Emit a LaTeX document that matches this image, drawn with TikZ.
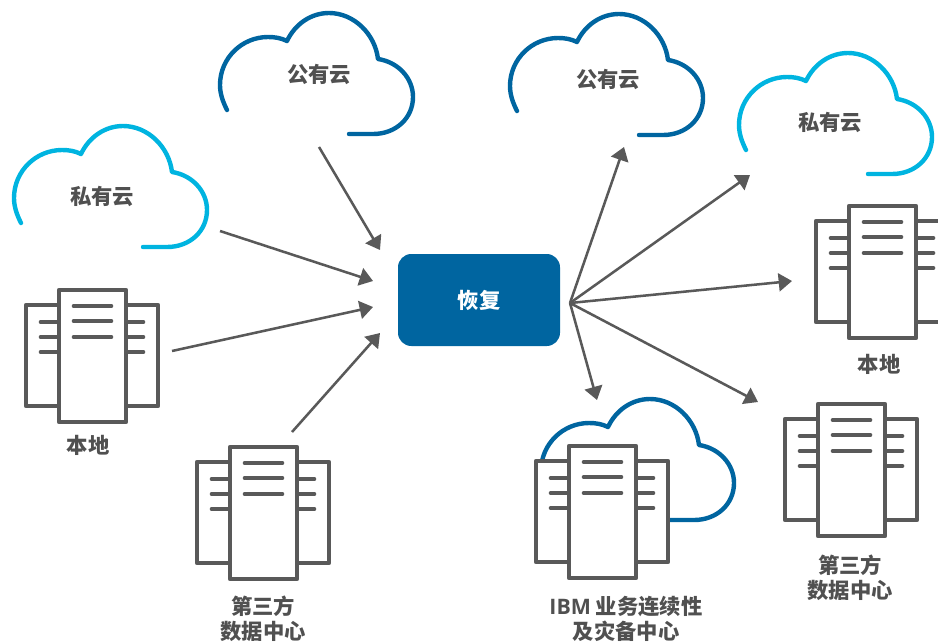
\documentclass[tikz,border=0pt]{standalone}
\usepackage{fontspec}
\setmainfont{Noto Sans CJK SC}
\newfontfamily\latinfont{Open Sans}
\usetikzlibrary{arrows.meta}

\definecolor{dr_dark}{RGB}{0,101,160}
\definecolor{dr_light}{RGB}{0,180,224}
\definecolor{dr_gray}{RGB}{89,89,89}
\definecolor{dr_text}{RGB}{80,80,80}

\tikzset{
    cloudline/.style={line width=3.3pt,line cap=round,line join=round},
    boxline/.style={draw=dr_gray,line width=3.5pt,line join=round,fill=white},
    barline/.style={draw=dr_gray,line width=3.5pt,line cap=round},
    flow/.style={draw=dr_gray,line width=1.9pt,-{Triangle[length=10pt,width=13.5pt]}},
    cloudlabel/.style={font=\bfseries\fontsize{16}{18}\selectfont,text=dr_text},
    sitelabel/.style={font=\bfseries\fontsize{16}{18.6}\selectfont,text=dr_text,align=center},
    cloudpic/.pic={
        \path[cloudline,pic actions] (0,0) .. controls (-4,-8) and (-7,-16) .. (-7,-25)
            .. controls (-7,-52) and (15,-73) .. (41,-73)
            .. controls (48,-73) and (54,-72) .. (60,-69)
            .. controls (68,-86) and (84,-97) .. (102,-97)
            .. controls (127,-97) and (148,-76) .. (151,-51)
            .. controls (171,-48) and (186,-32) .. (186,-13)
            .. controls (186,8) and (169,24) .. (146,24) -- (122,24);
    },
    serverpic/.pic={
        \path[boxline] (-33,15) rectangle (34,116);
        \path[boxline] (33,15) rectangle (99,116);
        \foreach \y in {32,47,62} {
            \draw[barline] (-18,\y) -- (0,\y);
            \draw[barline] (67,\y) -- (84,\y);
        }
        \path[boxline] (0,0) rectangle (67,132);
        \foreach \y in {16,31,47} \draw[barline] (15,\y) -- (52,\y);
    }
}

\begin{document}
\begin{tikzpicture}[x=0.75pt,y=-0.75pt]
    \clip (0,0) rectangle (938,643);
    % clouds
    \pic[draw=dr_light] at (21,223) {cloudpic};
    \pic[draw=dr_dark]  at (227,110) {cloudpic};
    \pic[draw=dr_dark]  at (517,111) {cloudpic};
    \pic[draw=dr_light] at (746,150) {cloudpic};
    \pic[draw=dr_dark]  at (548,496) {cloudpic};
    % servers
    \pic at (59,290)  {serverpic};
    \pic at (230,447) {serverpic};
    \pic at (569,446) {serverpic};
    \pic at (849,206) {serverpic};
    \pic at (818,404) {serverpic};
    % labels
    \node[cloudlabel] (privleft)  at (102,196) {私有云};
    \node[cloudlabel] (publeft)   at (319,74)  {公有云};
    \node[cloudlabel] (pubright)  at (608,79)  {公有云};
    \node[cloudlabel] (privright) at (830,122) {私有云};
    \node[sitelabel]  (siteleft)  at (88,445)  {本地};
    \node[sitelabel]  (siteright) at (879,364) {本地};
    \node[sitelabel]  (thirdleft)  at (263,619) {第三方\\数据中心};
    \node[sitelabel]  (thirdright) at (850,578) {第三方\\数据中心};
    \node[sitelabel]  (ibm)        at (626,619) {{\latinfont IBM} 业务连续性\\及灾备中心};
    % centre
    \node[shape=rectangle,fill=dr_dark,rounded corners=10pt,minimum width=121.5pt,minimum height=69pt,
        text=white,font=\bfseries\fontsize{16}{18}\selectfont] (recover) at (479,300) {\raisebox{-1pt}{恢复}};
    % arrow ends
    \coordinate (inpub)   at (319,147);
    \coordinate (inpube)  at (380,250);
    \coordinate (inpriv)  at (220,231);
    \coordinate (inprive) at (373,281);
    \coordinate (insite)  at (172,351);
    \coordinate (insitee) at (373,307);
    \coordinate (inthird)  at (292,432);
    \coordinate (inthirde) at (380,333);
    \coordinate (hub)      at (570,303);
    \coordinate (outpub)   at (624,147);
    \coordinate (outpriv)  at (750,175);
    \coordinate (outsite)  at (792,281);
    \coordinate (outthird) at (758,402);
    \coordinate (outibm)   at (597,400);
    \draw[flow] (inpub)   -- (inpube);
    \draw[flow] (inpriv)  -- (inprive);
    \draw[flow] (insite)  -- (insitee);
    \draw[flow] (inthird) -- (inthirde);
    \foreach \tgt in {outpub,outpriv,outsite,outthird,outibm}
        \draw[flow] (hub) -- (\tgt);
\end{tikzpicture}
\end{document}
